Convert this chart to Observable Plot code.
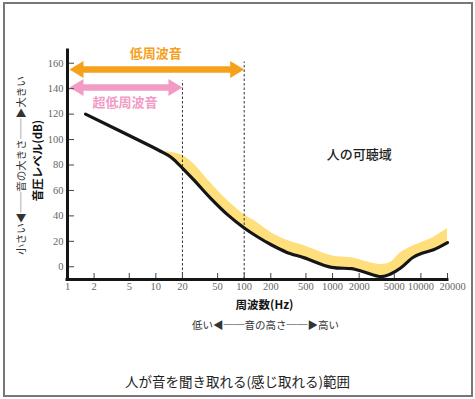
<!DOCTYPE html>
<html><head><meta charset="utf-8">
<script src="https://cdn.jsdelivr.net/npm/d3@7"></script>
<script src="https://cdn.jsdelivr.net/npm/@observablehq/plot@0.6"></script>
<style>
body{margin:0;background:#fff;}
#wrap{position:relative;width:475px;height:399px;}
#border{position:absolute;left:3px;top:2px;width:470px;height:395px;box-sizing:border-box;border:2px solid #777;pointer-events:none;}
</style></head><body>
<div id="wrap"><div id="chart"></div><div id="border"></div></div>
<script>
// ---- data ----
const xTicks = [1,2,5,10,20,50,100,200,500,1000,2000,5000,10000,20000];
const yTicks = [0,20,40,60,80,100,120,140,160];

// hearing threshold (black line)
const thrFreq = [1.6, 8.8, 11.3, 14.6, 17, 20, 26.7, 41.5, 64.7, 100, 141, 200, 300, 480, 975, 1650, 2140, 3600, 4600, 5900, 8200, 10700, 13900, 20000];
const thrDb   = [120, 94.7, 90.8, 86.5, 82.5, 77.5, 68.5, 54, 41, 30.5, 23.6, 17.5, 11.5, 7, -0.5, -1.5, -3.5, -7.8, -5.5, -1, 7.5, 11, 13.4, 19];

// yellow band
const bandFreq = [11.3, 14.6, 20, 26.7, 41.5, 64.7, 100, 141, 200, 300, 480, 975, 1650, 2140, 3500, 4600, 5900, 8200, 10700, 13900, 20000];
const bandLow  = [90.8, 86.5, 77.5, 68.5, 54, 41, 30.5, 23.6, 17.5, 11.5, 7, -0.5, -1.5, -3.5, -7.5, -5.5, -1, 7.5, 11, 13.4, 19];
const bandHigh = [90.8, 90, 87.4, 81, 66, 52, 41, 34.6, 27, 21, 16.5, 8.7, 7, 5, 1.8, 3.8, 11, 16.5, 19.7, 23, 30];

// range arrows
const arrowLabels = ["低周波音", "超低周波音"];
const arrowFrom   = [1, 1];
const arrowTo     = [100, 20];
const arrowLevel  = [155, 141];

// dotted dividers
const dividerFreq = [20, 100];
const dividerTop  = [146, 161];

// texts
const areaLabel = "人の可聴域";
const areaLabelFreq = 2000, areaLabelDb = 88;
const yLabel = "音圧レベル(dB)";
const yScaleLabel = "小さい◀──音の大きさ──▶大きい";
const xLabel = "周波数(Hz)";
const xScaleLabel = "低い◀──音の高さ──▶高い";
const captionText = "人が音を聞き取れる(感じ取れる)範囲";

// ---- build ----
const thr = thrFreq.map((f,i)=>({f, db: thrDb[i]}));
const band = bandFreq.map((f,i)=>({f, low: bandLow[i], high: bandHigh[i]}));
const arrows = arrowLabels.map((label,i)=>({label, from: arrowFrom[i], to: arrowTo[i], level: arrowLevel[i]}));
const dividers = dividerFreq.map((f,i)=>({f, top: dividerTop[i]}));

const ORANGE = "#F6A11C", PINK = "#F29CC5", YELLOW = "#FFDF7C";
const arrowColors = [ORANGE, PINK];
const labelDy = [-16, 15];
const jp = "'Noto Sans CJK JP', 'Noto Sans', sans-serif";
const serif = "'Liberation Serif', serif";

const W = 475, H = 399, ML = 67, MR = 28, MT = 50, MB = 120;
const frameW = W - ML - MR, frameH = H - MT - MB;

const leftHead = {draw(c){c.moveTo(0,0);c.lineTo(14,-8.5);c.lineTo(14,8.5);c.closePath();}};
const rightHead = {draw(c){c.moveTo(0,0);c.lineTo(-14,-8.5);c.lineTo(-14,8.5);c.closePath();}};

const arrowMarks = arrows.flatMap((a,i)=>[
  Plot.ruleY([a], {y:"level", x1:"from", x2:"to", stroke: arrowColors[i], strokeWidth: 6.5, insetLeft: 8, insetRight: 8}),
  Plot.dot([a], {x:"from", y:"level", symbol: leftHead, fill: arrowColors[i], dx: 2}),
  Plot.dot([a], {x:"to", y:"level", symbol: rightHead, fill: arrowColors[i]}),
  Plot.text([a], {x: d=>Math.sqrt(d.from*d.to), y:"level", text:"label", fill: arrowColors[i], dy: labelDy[i], fontSize: 13, fontWeight: "bold", fontFamily: jp})
]);

const tickLabelStyle = {frameAnchor:"bottom", lineAnchor:"top", textAnchor:"middle", dy: 3, fontSize: 10.5, fontFamily: serif, fill:"#666"};

const chart = Plot.plot({
  width: W, height: H,
  marginLeft: ML, marginRight: MR, marginTop: MT, marginBottom: MB,
  style: {background: "transparent", fontFamily: jp},
  x: {type: "log", domain: [1, 20000], axis: null},
  y: {domain: [-10, 170], axis: null},
  marks: [
    Plot.areaY(band, {x:"f", y1:"low", y2:"high", fill: YELLOW, curve:"catmull-rom"}),
    Plot.ruleX(dividers, {x:"f", y1: -10, y2:"top", stroke:"#333", strokeWidth: 1, strokeDasharray:"2.5,2"}),
    Plot.line(thr, {x:"f", y:"db", stroke:"#151515", strokeWidth: 3.2, curve:"catmull-rom"}),
    ...arrowMarks,
    // ticks (inward)
    Plot.ruleX(xTicks.slice(1), {x: d=>d, stroke:"#444", strokeWidth: 1, insetTop: frameH - 6}),
    Plot.ruleY(yTicks, {y: d=>d, stroke:"#444", strokeWidth: 1, insetRight: frameW - 7}),
    // axis lines
    Plot.ruleX([1], {stroke:"#151515", strokeWidth: 3, strokeLinecap:"square"}),
    Plot.ruleY([-10], {stroke:"#151515", strokeWidth: 3, strokeLinecap:"square"}),
    // tick labels
    Plot.text(xTicks.slice(0, -1), {x: d=>d, text: d=>String(d), ...tickLabelStyle}),
    Plot.text(xTicks.slice(-1), {x: d=>d, text: d=>String(d), ...tickLabelStyle, dx: 5}),
    Plot.text(yTicks, {y: d=>d, frameAnchor:"left", textAnchor:"end", lineAnchor:"middle", dx: -4, text: d=>String(d), fontSize: 10.5, fontFamily: serif, fill:"#666"}),
    // annotations
    Plot.text([areaLabel], {x: ()=>areaLabelFreq, y: ()=>areaLabelDb, text: d=>d, fontSize: 13, fontWeight: 500, fill:"#222", fontFamily: jp}),
    Plot.text([yLabel], {frameAnchor:"left", textAnchor:"middle", lineAnchor:"middle", dx: -29, dy: -4.5, rotate: -90, text: d=>d, fontSize: 11.5, fontWeight:"bold", fill:"#111", fontFamily: jp}),
    Plot.text([yScaleLabel], {frameAnchor:"left", textAnchor:"middle", lineAnchor:"middle", dx: -46, dy: 0.5, rotate: -90, text: d=>d, fontSize: 10.5, fill:"#333", fontFamily: jp}),
    Plot.text([xLabel], {frameAnchor:"bottom", textAnchor:"middle", lineAnchor:"middle", dx: 7, dy: 26, text: d=>d, fontSize: 11.5, fontWeight:"bold", fill:"#111", fontFamily: jp}),
    Plot.text([xScaleLabel], {frameAnchor:"bottom", textAnchor:"middle", lineAnchor:"middle", dx: 8, dy: 46, text: d=>d, fontSize: 10.5, fill:"#333", fontFamily: jp}),
    Plot.text([captionText], {frameAnchor:"bottom", textAnchor:"middle", lineAnchor:"middle", dx: -20, dy: 103, text: d=>d, fontSize: 13.5, fill:"#222", fontFamily: jp})
  ]
});
document.getElementById("chart").appendChild(chart);
</script>
</body></html>
